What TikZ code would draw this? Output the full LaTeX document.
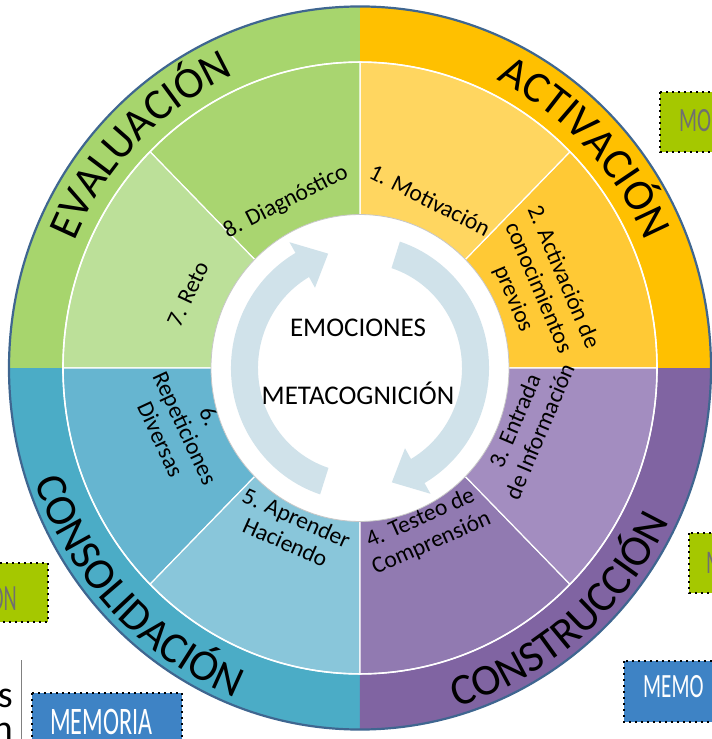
\documentclass[tikz,border=0pt]{standalone}
\usepackage{fontspec}
\setmainfont{Carlito}
\usetikzlibrary{decorations.text}

\definecolor{evaOut}{HTML}{A7D56D}
\definecolor{actOut}{HTML}{FFC000}
\definecolor{conOut}{HTML}{4BACC6}
\definecolor{cstOut}{HTML}{8064A2}
\definecolor{secOne}{HTML}{FFD660}
\definecolor{secTwo}{HTML}{FFC935}
\definecolor{secThree}{HTML}{A38DC0}
\definecolor{secFour}{HTML}{917AB1}
\definecolor{secFive}{HTML}{89C6DA}
\definecolor{secSix}{HTML}{66B5D0}
\definecolor{secSeven}{HTML}{BCE099}
\definecolor{secEight}{HTML}{A9D570}
\definecolor{arrowcol}{HTML}{D0E2EA}
\definecolor{rimcol}{HTML}{3F6690}
\definecolor{boxgreen}{HTML}{A5C800}
\definecolor{boxblue}{HTML}{3E83C5}
\definecolor{boxtext}{HTML}{707070}

\newcommand{\ringfont}{\fontsize{44}{44}\selectfont}

\tikzset{
  steplabel/.style={font=\fontsize{23.5}{27}\selectfont, align=center, inner sep=0pt},
  centrelabel/.style={font=\fontsize{27}{30}\selectfont, inner sep=0pt},
  memobox/.style={draw=black, line width=2pt, dash pattern=on 2pt off 4pt},
  ringtext/.style={decorate, decoration={text along path, text align=center}}
}

\begin{document}
\begin{tikzpicture}[x=1pt,y=1pt]
    \useasboundingbox (-360,-371) rectangle (352,368);
    \clip (-360,-371) rectangle (352,368);

    % side boxes
    \draw[memobox, fill=boxgreen] (300,276) rectangle (400,216);
    \node[anchor=base west, text=boxtext, font=\fontsize{34}{34}\selectfont, inner sep=0pt] (mo) at (319,236) {\scalebox{0.62}[1]{MO}};
    \draw[memobox, fill=boxgreen] (-400,-195) rectangle (-312,-254);
    \node[anchor=base east, text=boxtext, font=\fontsize{37}{37}\selectfont, inner sep=0pt] (on) at (-343,-242) {\scalebox{0.55}[1]{ON}};
    \draw[memobox, fill=boxgreen] (329,-165) rectangle (400,-225);
    \node[anchor=base west, text=boxtext, font=\fontsize{33}{33}\selectfont, inner sep=0pt] (m) at (346,-205) {\scalebox{0.62}[1]{M}};
    \draw[memobox, fill=boxblue] (264,-293) rectangle (400,-354);
    \node[anchor=base west, text=white, font=\fontsize{34}{34}\selectfont, inner sep=0pt] (memo) at (283,-329) {\scalebox{0.62}[1]{MEMO}};
    \draw[memobox, fill=boxblue] (-328,-325) rectangle (-178,-392);
    \node[anchor=base west, text=white, font=\fontsize{39}{39}\selectfont, inner sep=0pt] (memoria) at (-310,-366) {\scalebox{0.62}[1]{MEMORIA}};
    \draw[gray, line width=1.2pt] (-338.5,-292) -- (-338.5,-371);
    \node[anchor=base east, font=\fontsize{38}{38}\selectfont, inner sep=0pt] (tails) at (-347,-339) {s};
    \node[anchor=base east, font=\fontsize{38}{38}\selectfont, inner sep=0pt] (tailn) at (-347,-373) {n};

    \begin{scope}[yscale=1.03]
        % outer ring
        \foreach \a/\c in {0/actOut,90/evaOut,180/conOut,270/cstOut}
            \fill[\c] (0,0) -- (\a:351) arc[start angle=\a, delta angle=90, radius=351] -- cycle;
        \draw[rimcol, line width=2.2pt] (0,0) circle[radius=351];

        % eight steps
        \foreach \a/\c in {0/secTwo,45/secOne,90/secEight,135/secSeven,180/secSix,225/secFive,270/secFour,315/secThree}
            \filldraw[fill=\c, draw=white, line width=1.2pt] (0,0) -- (\a:297) arc[start angle=\a, delta angle=45, radius=297] -- cycle;
        \draw[white, line width=1.6pt] (0,0) circle[radius=297];

        % centre
        \filldraw[fill=white, draw=black!22, line width=0.8pt] (0,0) circle[radius=149];
        \fill[arrowcol] (252:102) arc[start angle=252, end angle=120, radius=102] -- (120:90) -- (106:115.5) -- (120:141) -- (120:129) arc[start angle=120, end angle=252, radius=129] -- cycle;
        \fill[arrowcol] (72:102) arc[start angle=72, end angle=-60, radius=102] -- (-60:90) -- (-74:115.5) -- (-60:141) -- (-60:129) arc[start angle=-60, end angle=72, radius=129] -- cycle;

        % ring titles
        \path[ringtext, decoration={text={|\ringfont|ACTIVACIÓN}}] (89:311) arc[start angle=89, end angle=-1, radius=311];
        \path[ringtext, decoration={text={|\ringfont|EVALUACIÓN}}] (180:311) arc[start angle=180, end angle=90, radius=311];
        \path[ringtext, decoration={text={|\ringfont|CONSOLIDACIÓN}}] (179:343) arc[start angle=179, end angle=269, radius=343];
        \path[ringtext, decoration={text={|\ringfont|CONSTRUCCIÓN}}] (265:343) arc[start angle=265, end angle=355, radius=343];
    \end{scope}

    \node[centrelabel] (emo) at (-2,40) {EMOCIONES};
    \node[centrelabel] (meta) at (-2,-25) {METACOGNICIÓN};

    \node[steplabel, rotate=-27] (motiv) at (70,168) {1. Motivación};
    \node[steplabel, rotate=-67] (activ) at (178,80) {2. Activación de\\conocimientos\\previos};
    \node[steplabel, rotate=67] (entrada) at (167,-58) {3. Entrada\\de Información};
    \node[steplabel, rotate=24] (testeo) at (66,-163) {4. Testeo de\\Comprensión};
    \node[steplabel, rotate=-24] (aprender) at (-69,-162) {5. Aprender\\Haciendo};
    \node[steplabel, rotate=-65] (repet) at (-175,-60) {6.\\Repeticiones\\Diversas};
    \node[steplabel, rotate=65] (reto) at (-172,74) {7. Reto};
    \node[steplabel, rotate=27] (diag) at (-74,166) {8. Diagnóstico};
\end{tikzpicture}
\end{document}
